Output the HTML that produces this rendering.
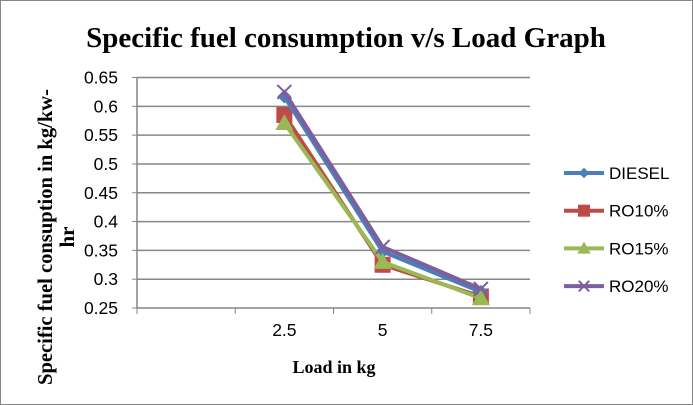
<!DOCTYPE html>
<html><head><meta charset="utf-8"><style>
body{margin:0;background:#fff}
svg{display:block}
text{font-family:"Liberation Sans",sans-serif}
</style></head><body>
<svg id="c" width="693" height="405" xmlns="http://www.w3.org/2000/svg">
<rect x="0.5" y="0.5" width="692" height="404" fill="#fff" stroke="#868686"/>
<text x="346" y="47" text-anchor="middle" font-weight="bold" font-size="29" style="font-family:'Liberation Serif',serif">Specific fuel consumption v/s Load Graph</text>
<g id="grid"></g>
<g id="axes"></g>
<g id="series"></g>
<text transform="translate(52,237) rotate(-90)" text-anchor="middle" font-weight="bold" font-size="21" textLength="296" lengthAdjust="spacingAndGlyphs" style="font-family:'Liberation Serif',serif">Specific fuel consuption in kg/kw-</text>
<text transform="translate(74,237) rotate(-90)" text-anchor="middle" font-weight="bold" font-size="21" style="font-family:'Liberation Serif',serif">hr</text>
<text x="334" y="373" text-anchor="middle" font-weight="bold" font-size="18" style="font-family:'Liberation Serif',serif">Load in kg</text>
<g id="legend"></g>
</svg>
<script>
const categories=["","2.5","5","7.5"];
const yTicks=[0.25,0.3,0.35,0.4,0.45,0.5,0.55,0.6,0.65];
const seriesNames=["DIESEL","RO10%","RO15%","RO20%"];
const diesel=[null,0.617,0.348,0.278];
const ro10=[null,0.585,0.325,0.27];
const ro15=[null,0.571,0.33,0.267];
const ro20=[null,0.625,0.356,0.283];
const seriesData=[diesel,ro10,ro15,ro20];
const colors=["#4a7ebb","#be4b48","#98b954","#7d5fa0"];
const NS="http://www.w3.org/2000/svg";
const X0=137,X1=530,Y0=308,Y1=77.5,YMIN=0.25,YMAX=0.65;
const xs=i=>X0+(X1-X0)/categories.length*(i+0.5);
const ys=v=>Y0-(v-YMIN)/(YMAX-YMIN)*(Y0-Y1);
function mk(tag,attrs,parent){const e=document.createElementNS(NS,tag);for(const k in attrs)e.setAttribute(k,attrs[k]);parent.appendChild(e);return e;}
const grid=document.getElementById('grid'),axes=document.getElementById('axes'),ser=document.getElementById('series'),leg=document.getElementById('legend');
yTicks.forEach(t=>{const y=ys(t);
 if(t>YMIN){const l=mk('line',{x1:X0,x2:X1,y1:y,y2:y,stroke:'#868686','stroke-width':1.5},grid);
 
 }
 const tk=mk('line',{x1:X0-5,x2:X0,y1:y,y2:y,stroke:'#868686'},axes);
 
 
 const tx=mk('text',{x:X0-19,y:y+6,'text-anchor':'end','font-size':17.5},axes);tx.textContent=t;
 
 
});
const ya=mk('line',{x1:X0,x2:X0,y1:Y1,y2:Y0,stroke:'#868686','stroke-width':1.5},axes);


const xa=mk('line',{x1:X0,x2:X1,y1:Y0,y2:Y0,stroke:'#868686','stroke-width':1.5},axes);


for(let i=0;i<=categories.length;i++){const x=X0+(X1-X0)/categories.length*i;
 const tk=mk('line',{x1:x,x2:x,y1:Y0,y2:Y0+6,stroke:'#868686'},axes);
 
 }
categories.forEach((c,i)=>{const tx=mk('text',{x:xs(i),y:Y0+28,'text-anchor':'middle','font-size':17.5},axes);tx.textContent=c;
 
 });
function marker(k,x,y,p,sc){sc=sc||1;let e;const c=colors[k];
 if(k===0)e=mk('polygon',{points:`${x},${y-7*sc} ${x+7*sc},${y} ${x},${y+7*sc} ${x-7*sc},${y}`,fill:c},p);
 else if(k===1)e=mk('rect',{x:x-8*sc,y:y-8*sc,width:16*sc,height:16*sc,fill:c},p);
 else if(k===2)e=mk('polygon',{points:`${x},${y-9*sc} ${x+9*sc},${y+7*sc} ${x-9*sc},${y+7*sc}`,fill:c},p);
 else e=mk('path',{d:`M${x-7*sc},${y-7*sc}L${x+7*sc},${y+7*sc}M${x+7*sc},${y-7*sc}L${x-7*sc},${y+7*sc}`,stroke:c,'stroke-width':2},p);
 return e;}
[1,0,2,3].forEach(k=>{const d=seriesData[k];const pts=[];d.forEach((v,i)=>{if(v!=null)pts.push([xs(i),ys(v)]);});
 const g=mk('g',{},ser);
 
 
 const pl=mk('polyline',{points:pts.map(p=>p.join(',')).join(' '),fill:'none',stroke:colors[k],'stroke-width':4,'stroke-linejoin':'round'},g);
 
 
 pts.forEach(p=>{const m=marker(k,p[0],p[1],g);
  
  });
});
seriesNames.forEach((n,k)=>{const y=173+k*37.7;const g=mk('g',{},leg);
 
 
 mk('line',{x1:564,x2:604,y1:y,y2:y,stroke:colors[k],'stroke-width':4},g);
 marker(k,584,y,g,0.75);
 const t=mk('text',{x:609,y:y+6,'font-size':17},g);t.textContent=n;});
</script>
</body></html>
